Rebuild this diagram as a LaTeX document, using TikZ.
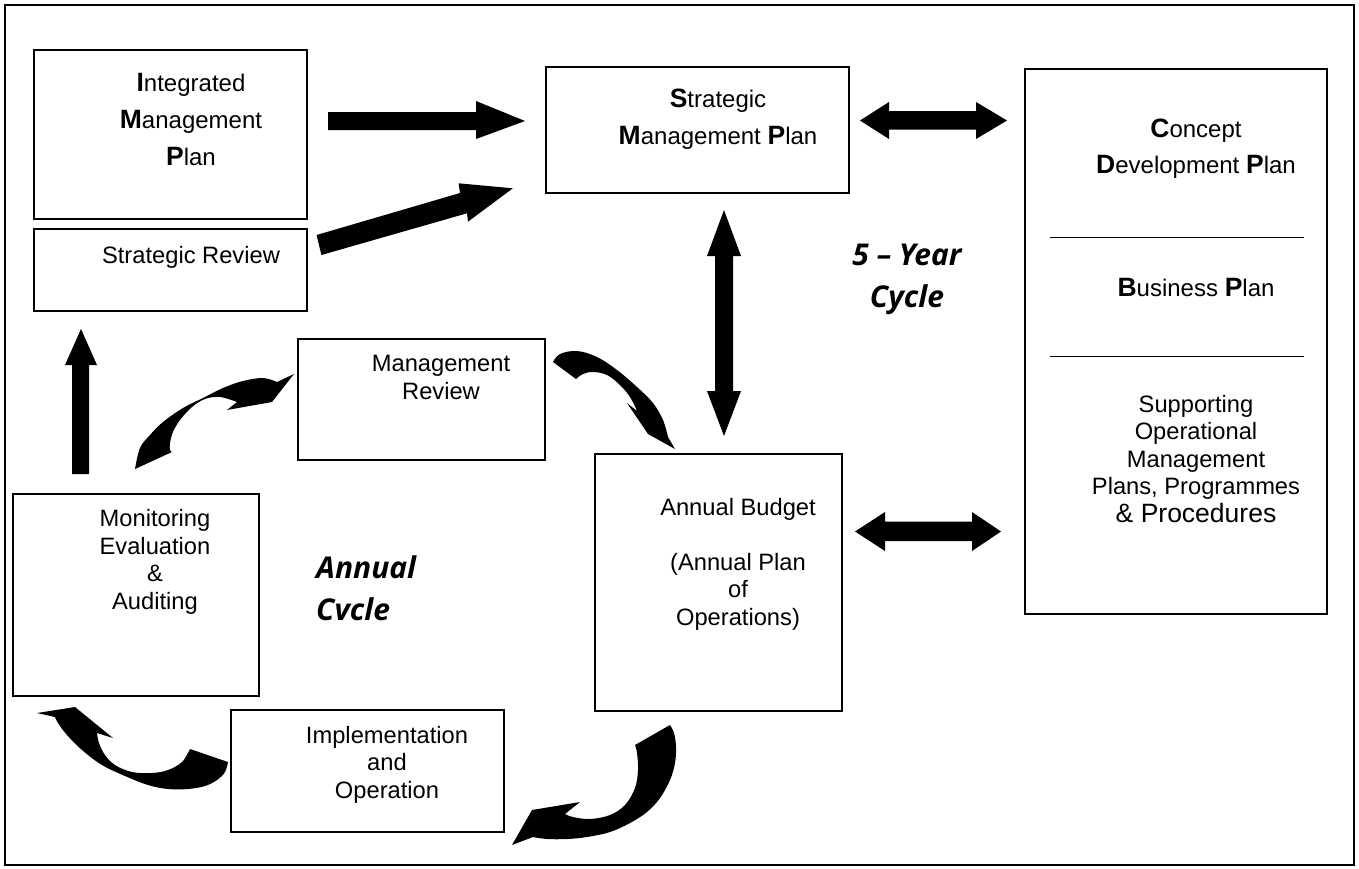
\documentclass[tikz,border=0pt]{standalone}
\usepackage{fontspec}
\setmainfont{Liberation Sans}
\newfontfamily\cycfont{Open Sans}
\newcommand{\BC}[1]{{\fontsize{26.5}{30}\selectfont\bfseries #1}}
\begin{document}
\begin{tikzpicture}[x=1pt,y=-1pt,
  box/.style={draw, line width=1.8pt, inner sep=0, fill=white},
  txt/.style={font=\fontsize{23.7}{27.5}\selectfont, align=center, anchor=base, inner sep=0},
  bigtxt/.style={font=\fontsize{24}{37}\selectfont, align=center, anchor=base, inner sep=0},
  cyc/.style={font=\cycfont\bfseries\itshape\fontsize{30}{42}\selectfont, inner sep=0},
  blk/.style={fill=black, draw=none}]
\useasboundingbox (0,0) rectangle (1359,868);
\fill[white] (0,0) rectangle (1359,868);
% outer frame
\node[draw, line width=1.6pt, inner sep=0, minimum width=1349pt, minimum height=860pt] (frame) at (679.5,435) {};
% boxes
\node[box, minimum width=273pt, minimum height=169pt] (imp) at (170.5,134.5) {};
\node[box, minimum width=273pt, minimum height=82pt] (sr) at (170.5,270) {};
\node[box, minimum width=303pt, minimum height=126pt] (smp) at (697.5,130) {};
\node[box, minimum width=302pt, minimum height=545pt] (cdp) at (1176,341.5) {};
\node[box, minimum width=247pt, minimum height=121pt] (mr) at (421.5,399.5) {};
\node[box, minimum width=246pt, minimum height=202pt] (mon) at (136,595) {};
\node[box, minimum width=247pt, minimum height=257pt] (ab) at (718.5,582.5) {};
\node[box, minimum width=273pt, minimum height=122pt] (impl) at (367.5,771) {};
% texts (base anchor = baseline of the last line)
\node[bigtxt] (impT) at (191,165) {\BC{I}ntegrated\\\BC{M}anagement\\\BC{P}lan};
\node[txt] (srT) at (191,263) {Strategic Review};
\node[bigtxt] (smpT) at (718,144) {\BC{S}trategic\\\BC{M}anagement \BC{P}lan};
\node[bigtxt, font=\fontsize{24}{36}\selectfont] (cdpT) at (1196,173) {\BC{C}oncept\\\BC{D}evelopment \BC{P}lan};
\node[bigtxt] (bpT) at (1196,296) {\BC{B}usiness \BC{P}lan};
\draw[line width=1pt] (1050,237) coordinate (s1a) -- (1304,237) coordinate (s1b);
\draw[line width=1pt] (1050,356) coordinate (s2a) -- (1304,356) coordinate (s2b);
\node[txt] (supT) at (1196,522) {Supporting\\Operational\\Management\\Plans, Programmes\\{\fontsize{26.5}{29}\selectfont \& Procedures}};
\node[txt] (mrT) at (441,399) {Management\\Review};
\node[txt] (monT) at (155,609) {Monitoring\\Evaluation\\\&\\Auditing};
\node[txt] (abT) at (738,625) {Annual Budget\\[27.5pt](Annual Plan\\of\\Operations)};
\node[txt] (implT) at (387,798) {Implementation\\and\\Operation};
\node[cyc, align=left, anchor=base west] (annT) at (316,620) {Annual\\Cvcle};
\node[cyc, align=center, anchor=base] (fiveT) at (907,307) {5 – Year\\Cycle};
% straight block arrows
\fill[blk] (328,112) -- (476,112) -- (476,101) -- (525,121) -- (476,139) -- (476,130) -- (328,130) -- cycle;
\fill[blk] (316.6,235) -- (460,193) -- (458.6,183.3) -- (512.8,188.3) -- (468,221.7) -- (467,213.3) -- (321.4,255) -- cycle;
\fill[blk] (860,120.5) -- (889,102) -- (889,111) -- (976,111) -- (976,102) -- (1007,120.5) -- (976,139) -- (976,129.5) -- (889,129.5) -- (889,139) -- cycle;
\fill[blk] (724,210) -- (741,256) -- (733,256) -- (733,391) -- (741,391) -- (724,436) -- (707,391) -- (715,391) -- (715,256) -- (707,256) -- cycle;
\fill[blk] (855,531.5) -- (885,512) -- (885,521.5) -- (972,521.5) -- (972,512) -- (1001,531.5) -- (972,551) -- (972,541) -- (885,541) -- (885,551) -- cycle;
\fill[blk] (81,329) -- (97,365) -- (89,365) -- (89,474) -- (72,474) -- (72,365) -- (65,365) -- cycle;
% curved block arrows
\fill[blk] plot[smooth, tension=0.6] coordinates {(135,469) (140,448) (150,435) (163,422) (183,408) (203,398) (223,388) (243,381) (263,378) (277,382)}
  -- (294,374) -- (272,402) -- (227,410) -- (237,402)
  -- plot[smooth, tension=0.6] coordinates {(237,402) (220,397) (205,399) (192,407) (180,420) (173,432) (170,443) (170,450) (172,452)} -- cycle;
\fill[blk] plot[smooth, tension=0.6] coordinates {(553,362) (560,354) (577,351) (597,357) (617,370) (637,387) (653,403) (663,420) (668,437)}
  -- (675,449) -- (648,434) -- (627,403) -- (637,411)
  -- plot[smooth, tension=0.6] coordinates {(637,411) (630,397) (620,385) (607,375) (593,372) (583,374) (576,379)} -- cycle;
\fill[blk] plot[smooth, tension=0.6] coordinates {(670,725) (674,733) (676,747) (675,763) (670,780) (660,798) (647,812) (630,823) (610,832) (587,837) (567,839) (547,839) (533,837)}
  -- (512,845) -- (532,810) -- (580,802) -- (565,814)
  -- plot[smooth, tension=0.6] coordinates {(565,814) (573,817) (590,819) (610,815) (625,805) (635,788) (638,770) (637,753) (635,745)} -- cycle;
\fill[blk] plot[smooth, tension=0.6] coordinates {(228,762) (225,772) (217,780) (205,786) (188,789) (168,789) (148,785) (125,776) (102,765) (82,750) (67,735) (58,723) (55,717)}
  -- (37,713) -- (75,707) -- (113,738) -- (97,733)
  -- plot[smooth, tension=0.6] coordinates {(97,733) (99,743) (105,755) (115,765) (132,772) (152,773) (168,770) (182,762) (190,749)} -- cycle;
\end{tikzpicture}
\end{document}
